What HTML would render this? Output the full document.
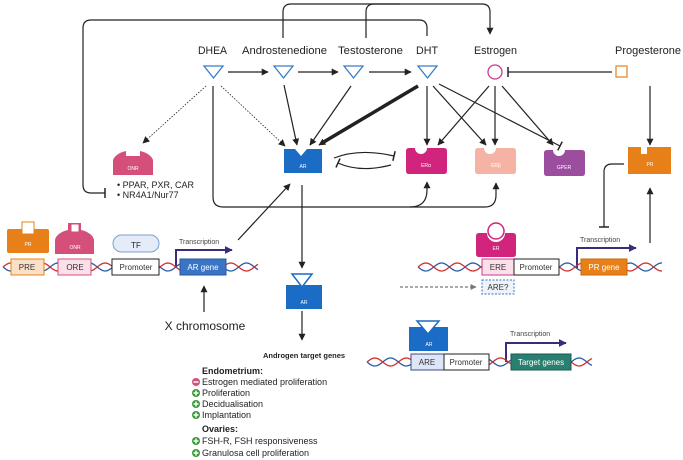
<!DOCTYPE html>
<html><head><meta charset="utf-8"><style>
body{margin:0;background:#fff}
svg{display:block;font-family:"Liberation Sans",sans-serif}
</style></head><body>
<svg id="s" width="683" height="460" viewBox="0 0 683 460" xmlns="http://www.w3.org/2000/svg">
<defs>
<marker id="a" viewBox="0 0 10 10" refX="9" refY="5" markerWidth="7" markerHeight="7" orient="auto" markerUnits="userSpaceOnUse"><path d="M0,0L10,5L0,10z" fill="#222"/></marker>
<marker id="ap" viewBox="0 0 10 10" refX="9" refY="5" markerWidth="8" markerHeight="8" orient="auto" markerUnits="userSpaceOnUse"><path d="M0,0L10,5L0,10z" fill="#3d2a7a"/></marker>
<marker id="ag" viewBox="0 0 10 10" refX="9" refY="5" markerWidth="6" markerHeight="6" orient="auto" markerUnits="userSpaceOnUse"><path d="M0,0L10,5L0,10z" fill="#777"/></marker>
<marker id="t" viewBox="0 0 4 10" refX="2" refY="5" markerWidth="4" markerHeight="10" orient="auto" markerUnits="userSpaceOnUse"><path d="M2,0V10" stroke="#222" stroke-width="1.5"/></marker>
</defs>
<g fill="none" stroke="#222" stroke-width="1.2">
<path d="M283,38V12Q283,4 291,4H482Q490,4 490,12V34" marker-end="url(#a)"/>
<path d="M366,38V12Q366,4 374,4H400"/>
<path d="M427,36V28Q427,20 419,20H91Q83,20 83,28V185Q83,193 91,193H105" marker-end="url(#t)"/>
<path d="M228,72H268" marker-end="url(#a)"/>
<path d="M298,72H338" marker-end="url(#a)"/>
<path d="M369,72H411" marker-end="url(#a)"/>
<path d="M612,72H508" marker-end="url(#t)"/>
<path d="M206,86L143,143" stroke-dasharray="1.5,1.5" stroke-width="0.8" marker-end="url(#a)"/>
<path d="M221,86L285,146" stroke-dasharray="1.5,1.5" stroke-width="0.8" marker-end="url(#a)"/>
<path d="M213,86V197Q213,207 223,207H410Q427,207 427,190V182" marker-end="url(#a)"/>
<path d="M410,207H485Q496,207 496,195V183" marker-end="url(#a)"/>
<path d="M284,85L297,145" marker-end="url(#a)"/>
<path d="M351,86L310,145" marker-end="url(#a)"/>
<path d="M418,86L322,143" stroke-width="3.5"/>
<path d="M330,138L319,145" marker-end="url(#a)"/>
<path d="M427,86V145" marker-end="url(#a)"/>
<path d="M433,86L486,145" marker-end="url(#a)"/>
<path d="M439,84L560,146" marker-end="url(#t)"/>
<path d="M489,86L438,145" marker-end="url(#a)"/>
<path d="M495,86V145" marker-end="url(#a)"/>
<path d="M502,86L553,145" marker-end="url(#a)"/>
<path d="M650,86V145" marker-end="url(#a)"/>
<path d="M334,158Q360,148 394,156" marker-end="url(#t)"/>
<path d="M391,165Q360,173 338,163" marker-end="url(#t)"/>
<path d="M302,185V268" marker-end="url(#a)"/>
<path d="M302,311V340" marker-end="url(#a)"/>
<path d="M238,240L290,184" marker-end="url(#a)"/>
<path d="M204,312V286" marker-end="url(#a)"/>
<path d="M624,164H612Q604,164 604,172V227" marker-end="url(#t)"/>
<path d="M650,243V188" marker-end="url(#a)"/>
<path d="M400,287H476" stroke="#777" stroke-dasharray="3,2" marker-end="url(#ag)"/>
</g>
<g fill="none" stroke="#3d2a7a" stroke-width="2">
<path d="M176,268V250H232" marker-end="url(#ap)"/>
<path d="M577,268V248H636" marker-end="url(#ap)"/>
<path d="M506,362V343H566" marker-end="url(#ap)"/>
</g>
<g id="dna"></g>
<g font-size="11" fill="#222">
<text x="198" y="54" textLength="29" lengthAdjust="spacingAndGlyphs">DHEA</text><text x="242" y="54" textLength="85" lengthAdjust="spacingAndGlyphs">Androstenedione</text><text x="338" y="54" textLength="65" lengthAdjust="spacingAndGlyphs">Testosterone</text><text x="416" y="54" textLength="22" lengthAdjust="spacingAndGlyphs">DHT</text><text x="474" y="54" textLength="43" lengthAdjust="spacingAndGlyphs">Estrogen</text><text x="615" y="54" textLength="66" lengthAdjust="spacingAndGlyphs">Progesterone</text>
</g>
<g fill="none" stroke="#3a7bc8" stroke-width="1.3">
<path d="M204,66H223L213.5,78z"/><path d="M274,66H293L283.5,78z"/><path d="M344,66H363L353.5,78z"/><path d="M418,66H437L427.5,78z"/>
</g>
<circle cx="495" cy="72" r="7" fill="none" stroke="#c83a8e" stroke-width="1.3"/>
<rect x="616" y="66" width="11" height="11" fill="none" stroke="#e68a2e" stroke-width="1.3"/>
<g font-size="5" fill="#fff" text-anchor="middle">
<path d="M284,149h11l6,7l6,-7h15v24h-38z" fill="#1a6cc4"/><text x="303" y="168">AR</text>
<path d="M406,151q0,-3 3,-3h6a6,6 0 0 0 12,0h17q3,0 3,3v20q0,3 -3,3h-35q-3,0 -3,-3z" fill="#d0247d"/><text x="426" y="167">ERα</text>
<path d="M475,151q0,-3 3,-3h6a6,6 0 0 0 12,0h17q3,0 3,3v20q0,3 -3,3h-35q-3,0 -3,-3z" fill="#f5b3a5"/><text x="496" y="167">ERβ</text>
<path d="M544,153q0,-3 3,-3h6a6,6 0 0 0 12,0h17q3,0 3,3v20q0,3 -3,3h-35q-3,0 -3,-3z" fill="#9b4e9e"/><text x="564" y="169">GPER</text>
<path d="M628,147h13v7h6v-7h24v27h-43z" fill="#e8801a"/><text x="650" y="166">PR</text>
<path d="M113,160a20,12 0 0 1 13,-9v5h14v-5a20,12 0 0 1 13,9v15h-40z" fill="#d4507a"/><text x="133" y="170">ONR</text>
<rect x="7" y="229" width="42" height="24" rx="2" fill="#e8801a"/><rect x="22" y="222" width="12" height="12" fill="#fff" stroke="#e8801a"/><text x="28" y="246">PR</text>
<path d="M55,240a20,12 0 0 1 13,-10v-7h13v7a20,12 0 0 1 13,10v14h-39z" fill="#d4507a"/><rect x="71" y="224" width="8" height="8" fill="#fff" stroke="#d4507a"/><text x="75" y="249">ONR</text>
<rect x="113" y="235" width="46" height="17" rx="8.5" fill="#e3ecf8" stroke="#7aa0d0"/>
<path d="M286,285h36v24h-36z" fill="#1a6cc4"/><path d="M292,274h20l-10,13z" fill="#fff" stroke="#1a6cc4" stroke-width="1.5"/><text x="304" y="304">AR</text>
<path d="M409,327h39v24h-39z" fill="#1a6cc4"/><path d="M417,321h22l-11,13z" fill="#fff" stroke="#1a6cc4" stroke-width="1.5"/><text x="429" y="346">AR</text>
<path d="M476,236q0,-3 3,-3h8a9,9 0 0 0 18,0h8q3,0 3,3v18q0,3 -3,3h-34q-3,0 -3,-3z" fill="#d0247d"/><circle cx="496" cy="231" r="8" fill="#fff" stroke="#d0247d" stroke-width="1.5"/><text x="496" y="250">ER</text>
</g>
<text x="136" y="248" font-size="8" text-anchor="middle" fill="#222">TF</text>
<g font-size="8" text-anchor="middle">
<rect x="11" y="259" width="33" height="16" fill="#fbe0c6" stroke="#e8801a"/><text x="27" y="270" fill="#333">PRE</text>
<rect x="58" y="259" width="33" height="16" fill="#fbe0ea" stroke="#d4507a"/><text x="75" y="270" fill="#333">ORE</text>
<rect x="112" y="259" width="47" height="16" fill="#fff" stroke="#222"/><text x="136" y="270" fill="#333">Promoter</text>
<rect x="180" y="259" width="46" height="16" fill="#3a74c4" stroke="#2a5a9a"/><text x="203" y="270" fill="#fff">AR gene</text>
<rect x="482" y="259" width="32" height="16" fill="#fbe0ea" stroke="#c83a8e"/><text x="498" y="270" fill="#333">ERE</text>
<rect x="514" y="259" width="45" height="16" fill="#fff" stroke="#222"/><text x="536" y="270" fill="#333">Promoter</text>
<rect x="581" y="259" width="46" height="16" fill="#e8801a" stroke="#c86a10"/><text x="604" y="270" fill="#fff">PR gene</text>
<rect x="482" y="280" width="32" height="14" fill="#eef3fa" stroke="#3a74c4" stroke-dasharray="2,1.5"/><text x="498" y="290" fill="#333">ARE?</text>
<rect x="411" y="354" width="33" height="16" fill="#dde6f6" stroke="#3a4a8a"/><text x="427" y="365" fill="#333">ARE</text>
<rect x="444" y="354" width="45" height="16" fill="#fff" stroke="#222"/><text x="466" y="365" fill="#333">Promoter</text>
<rect x="511" y="354" width="60" height="16" fill="#2a8070" stroke="#1a5a50"/><text x="541" y="365" fill="#fff">Target genes</text>
</g>
<g font-size="7" fill="#444"><text x="179" y="244">Transcription</text><text x="580" y="242">Transcription</text><text x="510" y="336">Transcription</text></g>
<text x="205" y="330" font-size="12" text-anchor="middle" fill="#222">X chromosome</text>
<g font-size="9" fill="#222">
<text x="117" y="188">• PPAR, PXR, CAR</text><text x="117" y="198">• NR4A1/Nur77</text>
<text x="304" y="358" text-anchor="middle" font-weight="bold" font-size="7.5">Androgen target genes</text>
<text x="202" y="374" font-weight="bold">Endometrium:</text>
<text x="202" y="385">Estrogen mediated proliferation</text>
<text x="202" y="396">Proliferation</text>
<text x="202" y="407">Decidualisation</text>
<text x="202" y="418">Implantation</text>
<text x="202" y="432" font-weight="bold">Ovaries:</text>
<text x="202" y="444">FSH-R, FSH responsiveness</text>
<text x="202" y="456">Granulosa cell proliferation</text>
</g>
<g id="icons"></g>
</svg>
<script>
var ns="http://www.w3.org/2000/svg",d=document.getElementById("dna");
function helix(x0,x1,y){for(var k=0;k<2;k++){var p="M"+x0+","+(y+4*Math.sin(k*Math.PI));for(var x=x0;x<=x1;x+=1)p+="L"+x+","+(y+4*Math.sin((x-x0)/5+k*Math.PI)).toFixed(2);var e=document.createElementNS(ns,"path");e.setAttribute("d",p);e.setAttribute("fill","none");e.setAttribute("stroke",k?"#d03030":"#2a5aa8");e.setAttribute("stroke-width","1.3");d.appendChild(e);}}
helix(3,258,267);helix(418,662,267);helix(367,592,362);
var ic=document.getElementById("icons");
[[385,0],[396,1],[407,1],[418,1],[444,1],[456,1]].forEach(function(v){var c=document.createElementNS(ns,"circle");c.setAttribute("cx",196);c.setAttribute("cy",v[0]-3);c.setAttribute("r",4);c.setAttribute("fill",v[1]?"#3a9a3a":"#d4507a");ic.appendChild(c);
var l=document.createElementNS(ns,"path");l.setAttribute("d",v[1]?"M193.5,"+(v[0]-3)+"h5M196,"+(v[0]-5.5)+"v5":"M193.5,"+(v[0]-3)+"h5");l.setAttribute("stroke","#fff");l.setAttribute("stroke-width","1.5");ic.appendChild(l);});
</script>
</body></html>
